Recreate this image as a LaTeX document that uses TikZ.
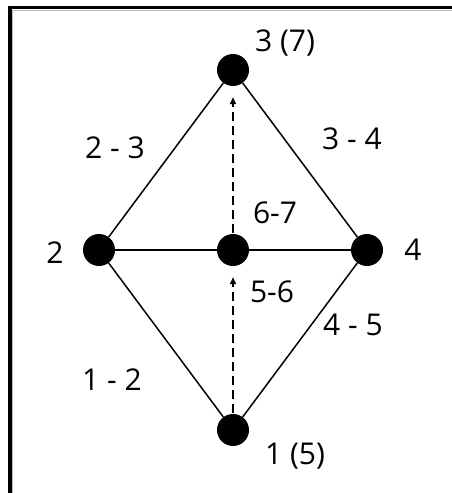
\documentclass[tikz,border=0pt]{standalone}
\usepackage{fontspec}
\setmainfont{Open Sans}
\usetikzlibrary{arrows.meta}
\begin{document}
\begin{tikzpicture}[x=1pt,y=-1pt,
  dot/.style={circle,fill=black,inner sep=0pt,minimum size=32pt},
  lbl/.style={inner sep=0pt,font=\fontsize{30}{35}\selectfont},
  edge/.style={line width=1.5pt},
  flow/.style={line width=1.3pt,dash pattern=on 9pt off 5pt,-{Triangle[length=7pt,width=6pt]},shorten >=11pt,shorten <=1pt}]
\useasboundingbox (0,0) rectangle (452,493);
\fill[white] (0,0) rectangle (452,493);
\draw[line width=3.5pt] (10,493) -- (10,7.5) -- (452,7.5);
\draw[black!25,line width=0.8pt] (12.8,493) -- (12.8,10.3) -- (452,10.3);
% vertices
\node[dot] (n3) at (233,70) {};
\node[dot] (n2) at (99,250) {};
\node[dot] (nc) at (233,250) {};
\node[dot] (n4) at (367,250) {};
\node[dot] (n1) at (233,430) {};
% edges
\draw[edge] (n3) -- (n2);
\draw[edge] (n3) -- (n4);
\draw[edge] (n2) -- (nc);
\draw[edge] (nc) -- (n4);
\draw[edge] (n2) -- (n1);
\draw[edge] (n4) -- (n1);
\draw[flow] (n1) -- (nc);
\draw[flow] (nc) -- (n3);
% labels
\node[lbl] (l3) at (285,43) {3 (7)};
\node[lbl] (l2) at (55,253) {2};
\node[lbl] (l4) at (413,250) {4};
\node[lbl] (l1) at (295,456) {1 (5)};
\node[lbl] (e23) at (115,148) {2 - 3};
\node[lbl] (e34) at (352,139) {3 - 4};
\node[lbl] (e67) at (275,213) {6-7};
\node[lbl] (e56) at (272,292) {5-6};
\node[lbl] (e12) at (112,380) {1 - 2};
\node[lbl] (e45) at (353,325) {4 - 5};
\end{tikzpicture}
\end{document}
